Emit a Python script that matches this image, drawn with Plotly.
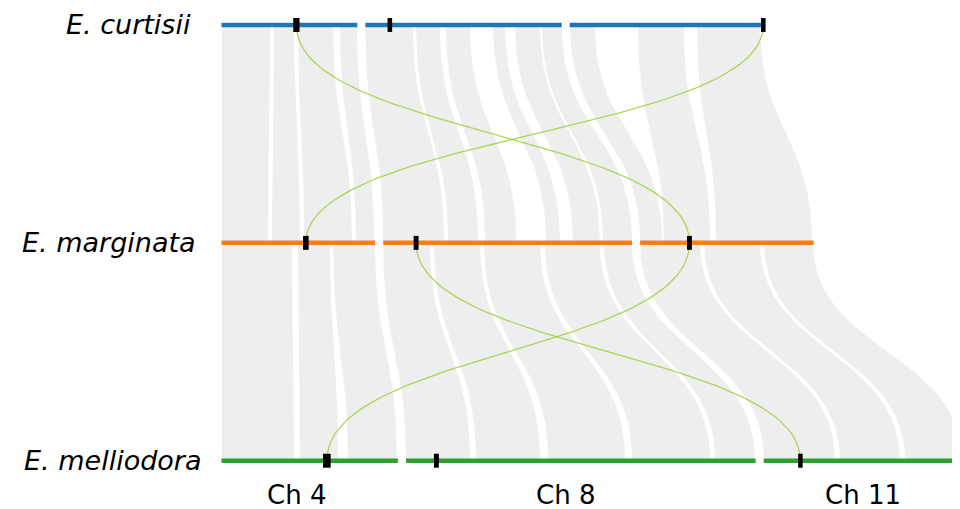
import plotly.graph_objects as go

# ---------------- data ----------------
species = ["E. curtisii", "E. marginata", "E. melliodora"]
chrom_names = ["Ch 4", "Ch 8", "Ch 11"]
# chromosome lengths (Mb) per genome, order Ch4, Ch8, Ch11
len_curtisii = [38.8, 56.1, 55.4]
len_marginata = [43.9, 71.1, 49.6]
len_melliodora = [50.4, 99.9, 57.5]
chrom_lengths = [len_curtisii, len_marginata, len_melliodora]
GAP = 2.3
colors = ["#1f77b4", "#ff7f0e", "#2ca02c"]

# highlighted genes: (chrom index, position Mb, marker width Mb)
genes_curtisii = [(0, 21.4, 1.8), (1, 7.0, 1.3), (2, 55.3, 1.3)]
genes_marginata = [(0, 24.1, 1.6), (1, 9.4, 1.4), (2, 14.1, 1.4)]
genes_melliodora = [(0, 30.1, 2.2), (1, 8.7, 1.4), (2, 10.5, 1.3)]
genes = [genes_curtisii, genes_marginata, genes_melliodora]

# highlighted gene links: (genome a, gene idx a, genome b, gene idx b)
gene_links = [(0, 0, 1, 2), (0, 2, 1, 0), (1, 2, 2, 0), (1, 1, 2, 2)]

# synteny blocks curtisii -> marginata: (chrA, startA, endA, chrB, startB, endB) in Mb
blocks_cur_mar = [
    (0, 0.1, 13.9, 0, 0.1, 13.3),
    (0, 15.0, 20.7, 0, 14.4, 22.4),
    (0, 21.9, 31.9, 0, 23.6, 37.3),
    (0, 33.9, 38.7, 0, 38.4, 43.6),
    (1, 0.0, 13.6, 1, 0.0, 17.4),
    (1, 14.5, 21.3, 1, 18.5, 27.1),
    (1, 23.0, 29.9, 1, 29.1, 38.0),
    (1, 36.5, 39.9, 1, 46.5, 50.5),
    (1, 42.8, 49.9, 1, 54.2, 61.9),
    (1, 50.5, 56.1, 1, 62.8, 71.1),
    (2, 0.1, 7.2, 2, 0.0, 6.3),
    (2, 19.5, 32.6, 2, 6.8, 20.0),
    (2, 36.4, 54.4, 2, 21.7, 49.1),
]
# synteny blocks marginata -> melliodora
blocks_mar_mel = [
    (0, 0.1, 20.1, 0, 0.1, 20.7),
    (0, 21.9, 31.0, 0, 22.4, 33.3),
    (0, 31.9, 43.9, 0, 36.1, 50.1),
    (1, 0.0, 13.4, 1, 0.0, 18.3),
    (1, 14.5, 27.7, 1, 20.0, 38.3),
    (1, 28.8, 44.8, 1, 40.6, 62.6),
    (1, 46.2, 61.9, 1, 64.6, 86.9),
    (1, 63.1, 71.1, 1, 88.3, 99.7),
    (2, 0.0, 17.1, 2, 0.1, 20.4),
    (2, 18.3, 34.3, 2, 21.8, 38.9),
    (2, 35.4, 49.4, 2, 40.4, 56.7),
]

# ---------------- layout helpers ----------------
row_y = [2, 1, 0]


def offsets(lengths):
    out, acc = [], 0.0
    for L in lengths:
        out.append(acc)
        acc += L + GAP
    return out


chrom_off = [offsets(l) for l in chrom_lengths]


def gx(g, c, pos):
    return chrom_off[g][c] + pos


def bezier(x0, y0, x1, y1, n=40):
    ym = (y0 + y1) / 2
    xs, ys = [], []
    for i in range(n + 1):
        t = i / n
        a, b, c, d = (1 - t) ** 3, 3 * (1 - t) ** 2 * t, 3 * (1 - t) * t ** 2, t ** 3
        xs.append(a * x0 + b * x0 + c * x1 + d * x1)
        ys.append(a * y0 + b * ym + c * ym + d * y1)
    return xs, ys


fig = go.Figure()

# ribbons
for (ga, gb, blocks) in [(0, 1, blocks_cur_mar), (1, 2, blocks_mar_mel)]:
    ya, yb = row_y[ga], row_y[gb]
    for (ca, sa, ea, cb, sb, eb) in blocks:
        x1, y1 = bezier(gx(ga, ca, sa), ya, gx(gb, cb, sb), yb)
        x2, y2 = bezier(gx(gb, cb, eb), yb, gx(ga, ca, ea), ya)
        fig.add_trace(go.Scatter(
            x=x1 + x2, y=y1 + y2, fill="toself", mode="lines",
            line=dict(width=0), fillcolor="rgba(200,200,200,0.3)",
            hoverinfo="skip", showlegend=False))

# chromosome bars
for g in range(3):
    for c, L in enumerate(chrom_lengths[g]):
        x0 = chrom_off[g][c]
        fig.add_trace(go.Scatter(
            x=[x0, x0 + L], y=[row_y[g], row_y[g]], mode="lines",
            line=dict(color=colors[g], width=4.5), hoverinfo="skip",
            showlegend=False))

# highlighted gene links
for (ga, ia, gb, ib) in gene_links:
    ca, pa, _ = genes[ga][ia]
    cb, pb, _ = genes[gb][ib]
    xs, ys = bezier(gx(ga, ca, pa), row_y[ga], gx(gb, cb, pb), row_y[gb], n=80)
    fig.add_trace(go.Scatter(
        x=xs, y=ys, mode="lines",
        line=dict(color="rgba(154,205,50,0.8)", width=1.3),
        hoverinfo="skip", showlegend=False))

# gene markers
HALF_H = 0.032
for g in range(3):
    for (c, p, w) in genes[g]:
        xc = gx(g, c, p)
        y = row_y[g]
        fig.add_trace(go.Scatter(
            x=[xc - w / 2, xc + w / 2, xc + w / 2, xc - w / 2, xc - w / 2],
            y=[y - HALF_H, y - HALF_H, y + HALF_H, y + HALF_H, y - HALF_H],
            fill="toself", mode="lines", line=dict(width=0),
            fillcolor="black", hoverinfo="skip", showlegend=False))

# species labels
species_label_x = [-8.1, -6.7, -5.3]
for g, name in enumerate(species):
    fig.add_annotation(
        x=species_label_x[g], y=row_y[g], xref="x", yref="y",
        text="<i>" + name + "</i>",
        showarrow=False, xanchor="right", yanchor="middle",
        font=dict(family="DejaVu Sans", size=27, color="black"))

# chromosome labels
label_x = [21.3, 98.4, 183.3]
for name, lx in zip(chrom_names, label_x):
    fig.add_annotation(
        x=lx, y=-0.157, xref="x", yref="y", text=name, showarrow=False,
        xanchor="center", yanchor="middle", borderpad=0,
        font=dict(family="DejaVu Sans", size=26, color="black"))

# the page body has an 8px margin, so the figure is 952x501 and the
# axis ranges are set so that the drawing lands where the reference has it
fig.update_layout(
    width=952, height=501, margin=dict(l=0, r=0, t=0, b=0),
    plot_bgcolor="white", paper_bgcolor="white", showlegend=False,
    xaxis=dict(range=[-61.0, 211.0], visible=False, fixedrange=True),
    yaxis=dict(range=[-0.2217, 2.078], visible=False, fixedrange=True),
)

fig.write_html("out.html")
